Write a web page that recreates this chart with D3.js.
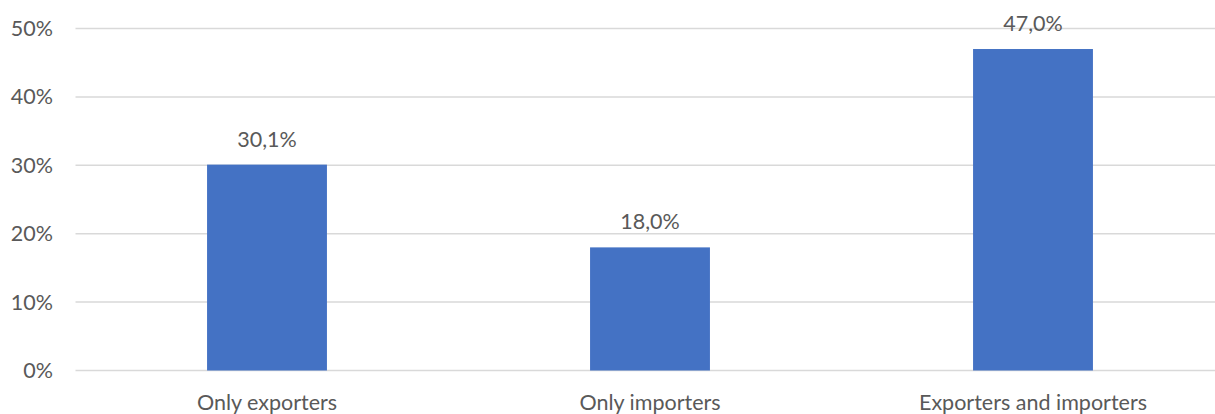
<!DOCTYPE html>
<html>
<head>
<meta charset="utf-8">
<script src="https://cdn.jsdelivr.net/npm/d3@7"></script>
<style>
  html, body { margin: 0; padding: 0; background: #fff; }
  svg { display: block; }
  text { font-family: Lato, "Open Sans", sans-serif; fill: #595959; }
</style>
</head>
<body>
<svg id="chart" width="1215" height="414"></svg>
<script>
// Share of firms by trade status (%)
const categories = ["Only exporters", "Only importers", "Exporters and importers"];
const shares = [30.1, 18.0, 47.0];
const yTicks = [0, 10, 20, 30, 40, 50];

const W = 1215, H = 414;
const plot = { left: 75.5, right: 1224.5, top: 28.5, bottom: 370.5 };
const fontSize = 21.5;

const svg = d3.select("#chart");

const x = d3.scaleBand()
  .domain(categories)
  .range([plot.left, plot.right])
  .paddingInner(0.687)
  .paddingOuter(0.3435);

const y = d3.scaleLinear()
  .domain([0, 50])
  .range([plot.bottom, plot.top]);

// horizontal gridlines
svg.append("g")
  .selectAll("line")
  .data(yTicks)
  .join("line")
  .attr("x1", plot.left)
  .attr("x2", W)
  .attr("y1", d => y(d))
  .attr("y2", d => y(d))
  .attr("stroke", "#d9d9d9")
  .attr("stroke-width", 1.5);

// y tick labels
const fmtPct = d => d + "%";
svg.append("g")
  .selectAll("text")
  .data(yTicks)
  .join("text")
  .attr("x", 53)
  .attr("y", d => y(d))
  .attr("dy", "0.35em")
  .attr("text-anchor", "end")
  .attr("font-size", fontSize)
  .text(fmtPct);

// bars
svg.append("g")
  .selectAll("rect")
  .data(categories)
  .join("rect")
  .attr("x", d => x(d))
  .attr("width", x.bandwidth())
  .attr("y", (d, i) => y(shares[i]))
  .attr("height", (d, i) => y(0) - y(shares[i]))
  .attr("fill", "#4472c4");

// value labels
const fmtVal = v => v.toFixed(1).replace(".", ",") + "%";
svg.append("g")
  .selectAll("text")
  .data(categories)
  .join("text")
  .attr("x", d => x(d) + x.bandwidth() / 2)
  .attr("y", (d, i) => y(shares[i]) - 18)
  .attr("text-anchor", "middle")
  .attr("font-size", fontSize)
  .attr("fill", "#404040")
  .text((d, i) => fmtVal(shares[i]));

// category labels
svg.append("g")
  .selectAll("text")
  .data(categories)
  .join("text")
  .attr("x", d => x(d) + x.bandwidth() / 2)
  .attr("y", 410)
  .attr("text-anchor", "middle")
  .attr("font-size", fontSize)
  .text(d => d);
</script>
</body>
</html>
